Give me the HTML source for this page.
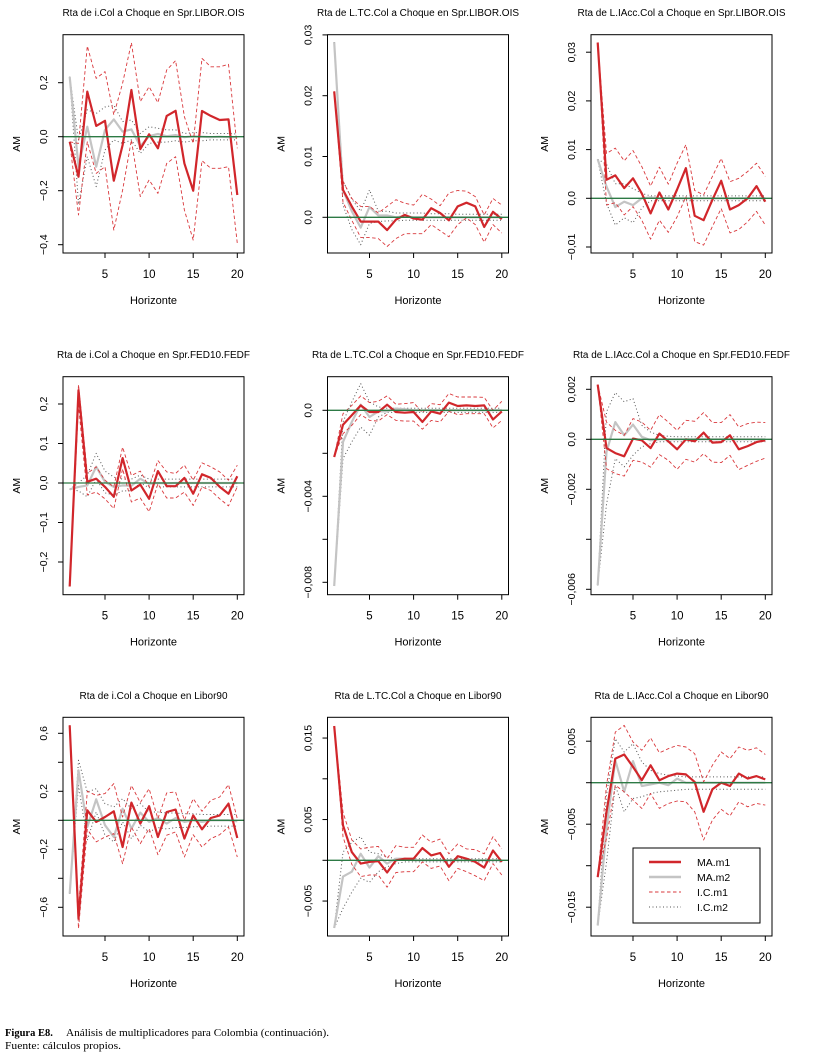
<!DOCTYPE html>
<html><head><meta charset="utf-8">
<style>
html,body{margin:0;padding:0;background:#fff;}
svg{display:block;font-family:"Liberation Sans",sans-serif;}
</style></head>
<body>
<svg id="fig" width="818" height="1058" viewBox="0 0 818 1058" xmlns="http://www.w3.org/2000/svg">
<text x="5" y="1036" font-family="Liberation Serif,serif" font-size="10.5"><tspan font-weight="bold">Figura E8.</tspan><tspan x="66" textLength="263" lengthAdjust="spacingAndGlyphs">Análisis de multiplicadores para Colombia (continuación).</tspan></text>
<text x="5" y="1049" font-family="Liberation Serif,serif" font-size="10.5" textLength="116" lengthAdjust="spacingAndGlyphs">Fuente: cálculos propios.</text>
</svg>
<script>
const horizons = [1,2,3,4,5,6,7,8,9,10,11,12,13,14,15,16,17,18,19,20];
const xTicks = [5,10,15,20];
const panelTitles = ["Rta de i.Col a Choque en Spr.LIBOR.OIS","Rta de L.TC.Col a Choque en Spr.LIBOR.OIS","Rta de L.IAcc.Col a Choque en Spr.LIBOR.OIS",
"Rta de i.Col a Choque en Spr.FED10.FEDF","Rta de L.TC.Col a Choque en Spr.FED10.FEDF","Rta de L.IAcc.Col a Choque en Spr.FED10.FEDF",
"Rta de i.Col a Choque en Libor90","Rta de L.TC.Col a Choque en Libor90","Rta de L.IAcc.Col a Choque en Libor90"];

// Panel 1
const p1_m1=[-0.019,-0.148,0.167,0.040,0.059,-0.163,-0.031,0.173,-0.046,0.009,-0.043,0.077,0.096,-0.099,-0.200,0.095,0.077,0.062,0.064,-0.216];
const p1_up=[-0.019,-0.025,0.336,0.216,0.241,0.081,0.198,0.348,0.130,0.185,0.126,0.247,0.282,0.074,-0.025,0.290,0.259,0.259,0.268,-0.043];
const p1_lo=[-0.019,-0.290,-0.019,-0.136,-0.111,-0.346,-0.198,-0.012,-0.222,-0.160,-0.210,-0.099,-0.074,-0.272,-0.383,-0.089,-0.117,-0.117,-0.111,-0.395];
const p1_m2=[0.222,-0.111,0.037,-0.111,0.025,0.064,0.019,0.027,-0.035,0.002,0.010,0.002,0.006,-0.002,0.002,0,-0.002,0,-0.002,-0.002];
const p1_m2u=[0.222,-0.012,0.10,0.086,0.11,0.117,0.056,0.062,0.012,0.037,0.031,0.025,0.025,0.012,0.015,0.015,0.012,0.012,0.012,0.01];
const p1_m2l=[0.222,-0.25,-0.074,-0.185,-0.049,-0.012,-0.025,-0.012,-0.062,-0.025,-0.02,-0.02,-0.015,-0.02,-0.015,-0.015,-0.012,-0.012,-0.012,-0.012];
// Panel 2
const p2_m1=[0.0207,0.0045,0.0018,-0.0007,-0.0007,-0.0007,-0.0021,-0.0004,0.0004,-0.0002,-0.0004,0.0015,0.0007,-0.0005,0.0018,0.0024,0.0018,-0.0016,0.0009,-0.0003];
const p2_up=[0.0207,0.0059,0.0031,0.0018,0.0018,0.0007,0.0018,0.0029,0.0023,0.002,0.0038,0.003,0.0019,0.0040,0.0044,0.0043,0.0034,0.0004,0.0031,0.002];
const p2_lo=[0.0207,0.0025,-0.0005,-0.0033,-0.0033,-0.0035,-0.0048,-0.0035,-0.0027,-0.0027,-0.0027,-0.0012,-0.0022,-0.0032,-0.0012,-0.0001,-0.0012,-0.0041,-0.0012,-0.0026];
const p2_m2=[0.0288,0.0045,0.001,-0.0017,0.0017,0.0003,0.0003,0,0.0002,0,0,0,0,0,0,0,0,0,0,0];
const p2_m2u=[0.0288,0.006,0.003,0.001,0.0045,0.001,0.001,0.0007,0.0007,0.0007,0.0007,0.0006,0.0006,0.0006,0.0005,0.0005,0.0005,0.0005,0.0005,0.0005];
const p2_m2l=[0.0288,0.002,-0.002,-0.0045,-0.001,-0.0007,-0.0006,-0.0006,-0.0005,-0.0005,-0.0005,-0.0005,-0.0005,-0.0005,-0.0005,-0.0005,-0.0005,-0.0005,-0.0005,-0.0005];
// Panel 3
const p3_m1=[0.032,0.0038,0.0047,0.0021,0.0041,0.001,-0.0031,0.0012,-0.0023,0.0018,0.0062,-0.0036,-0.0045,-0.0003,0.0036,-0.0023,-0.0014,0,0.0025,-0.0007];
const p3_up=[0.032,0.0092,0.0103,0.0077,0.0098,0.0065,0.0025,0.0064,0.0029,0.0072,0.011,0.0016,0.0007,0.0045,0.0082,0.0034,0.0041,0.0055,0.0072,0.0045];
const p3_lo=[0.032,-0.0014,-0.0009,-0.0034,-0.0017,-0.0045,-0.0084,-0.0045,-0.007,-0.0038,0.0003,-0.0089,-0.0096,-0.0058,-0.0021,-0.0071,-0.0064,-0.0048,-0.0027,-0.0055];
const p3_m2=[0.008,0.0024,-0.0018,-0.0007,-0.0014,0,0.0002,0,0.0001,0,0,0,0,0,0,0,0,0,0,0];
const p3_m2u=[0.008,0.007,0.003,0.003,0.002,0.001,0.0005,0.0005,0.0005,0.0005,0.0005,0.0005,0.0005,0.0005,0.0005,0.0005,0.0005,0.0005,0.0005,0.0005];
const p3_m2l=[0.008,-0.001,-0.0055,-0.004,-0.005,-0.002,-0.0005,-0.0005,-0.0005,-0.0005,-0.0005,-0.0005,-0.0005,-0.0005,-0.0005,-0.0005,-0.0005,-0.0005,-0.0005,-0.0005];
// Panel 4
const p4_m1=[-0.262,0.235,0.003,0.011,-0.010,-0.035,0.063,-0.019,-0.004,-0.040,0.030,-0.008,-0.008,0.013,-0.027,0.022,0.013,-0.010,-0.027,0.017];
const p4_up=[-0.262,0.249,0.024,0.041,0.007,-0.010,0.091,0.019,0.030,-0.010,0.057,0.028,0.024,0.045,0.007,0.051,0.041,0.028,0.007,0.045];
const p4_lo=[-0.262,0.197,-0.030,-0.023,-0.040,-0.065,0.036,-0.048,-0.038,-0.073,-0.002,-0.038,-0.038,-0.023,-0.057,-0.010,-0.019,-0.040,-0.058,-0.010];
const p4_m2=[-0.016,-0.010,-0.006,0.041,0.003,-0.010,-0.006,-0.007,0.011,-0.002,0,-0.001,0,0,0,0,0,0,0,0];
const p4_m2u=[-0.016,0.0,0.02,0.075,0.03,0.015,0.01,0.01,0.02,0.01,0.01,0.01,0.01,0.01,0.01,0.01,0.01,0.01,0.01,0.01];
const p4_m2l=[-0.016,-0.02,-0.035,0.01,-0.025,-0.03,-0.02,-0.02,0.0,-0.012,-0.01,-0.01,-0.01,-0.01,-0.01,-0.01,-0.01,-0.01,-0.01,-0.01];
// Panel 5
const p5_m1=[-0.00217,-0.00067,-0.00023,0.00023,-0.00008,-0.00008,0.00026,-0.00008,-0.00011,-0.00008,-0.00054,-0.00005,-0.00016,0.00036,0.0002,0.00023,0.0002,0.00023,-0.00043,-0.00005];
const p5_up=[-0.00217,-0.00016,0.00023,0.00067,0.00036,0.00042,0.00067,0.00028,0.00031,0.00036,-0.00011,0.00031,0.00026,0.00078,0.00062,0.00062,0.00062,0.0006,0,0.00042];
const p5_lo=[-0.00217,-0.00109,-0.0007,-0.0002,-0.00047,-0.0005,-0.0002,-0.00047,-0.0005,-0.0005,-0.00088,-0.00047,-0.00054,-0.00005,-0.0002,-0.00016,-0.00016,-0.00016,-0.00082,-0.00047];
const p5_m2=[-0.00817,-0.00147,-0.00054,0.00026,-0.00031,-0.00005,-0.00005,0.00008,0.00005,0,0,0,0,0,0,0,0,0,0,0];
const p5_m2u=[-0.00817,-0.00054,0.00039,0.00124,0.00039,0.00016,0.0001,0.0001,0.0001,0.0001,0.0001,0.0001,0.0001,0.0001,0.0001,0.0001,0.0001,0.0001,0.0001,0.0001];
const p5_m2l=[-0.00817,-0.00225,-0.00147,-0.00078,-0.00116,-0.00031,-0.0001,-0.0001,-0.0001,-0.0001,-0.0001,-0.0001,-0.0001,-0.0001,-0.0001,-0.0001,-0.0001,-0.0001,-0.0001,-0.0001];
// Panel 6
const p6_m1=[0.00219,-0.00035,-0.00055,-0.00068,0.00003,-0.00004,-0.00035,0.00023,-0.00008,-0.0004,0,-0.00008,0.00027,-0.00013,-0.00011,0.00016,-0.0004,-0.00027,-0.00011,-0.00004];
const p6_up=[0.00219,0.00069,0.00036,0.00016,0.00083,0.00069,0.00036,0.00099,0.00069,0.00036,0.00076,0.00072,0.00107,0.00067,0.00067,0.00099,0.00049,0.00063,0.00069,0.00067];
const p6_lo=[0.00219,-0.00117,-0.00137,-0.00147,-0.00084,-0.00091,-0.00111,-0.00061,-0.00084,-0.0012,-0.0008,-0.00091,-0.00057,-0.00091,-0.00093,-0.00064,-0.00121,-0.00104,-0.00088,-0.00075];
const p6_m2=[-0.00584,-0.0005,0.00069,0.00016,0.00059,0.0001,-0.00004,0,0,0,0,0,0,0,0,0,0,0,0,0];
const p6_m2u=[-0.00584,0.0011,0.00187,0.0015,0.00163,0.00056,0.00029,0.00016,0.00012,0.0001,0.0001,0.0001,0.0001,0.0001,0.0001,0.0001,0.0001,0.0001,0.0001,0.0001];
const p6_m2l=[-0.00584,-0.0026,-0.00077,-0.0011,-0.00064,-0.0003,-0.00017,-0.0001,-0.0001,-0.0001,-0.0001,-0.0001,-0.0001,-0.0001,-0.0001,-0.0001,-0.0001,-0.0001,-0.0001,-0.0001];
// Panel 7
const p7_m1=[0.655,-0.678,0.069,-0.011,0.023,0.062,-0.184,0.122,-0.023,0.097,-0.115,0.057,0.074,-0.126,0.034,-0.062,0.016,0.034,0.115,-0.122];
const p7_up=[0.655,-0.609,0.2,0.172,0.184,0.253,0.023,0.241,0.122,0.218,0.011,0.189,0.195,0,0.149,0.062,0.138,0.161,0.246,0.011];
const p7_lo=[0.655,-0.747,-0.062,-0.149,-0.115,-0.092,-0.299,-0.046,-0.161,-0.057,-0.237,-0.103,-0.080,-0.253,-0.099,-0.184,-0.126,-0.099,-0.046,-0.253];
const p7_m2=[-0.506,0.345,-0.046,0.145,-0.034,-0.115,0.080,-0.057,0.053,-0.011,0.016,-0.023,0.016,-0.011,0,-0.011,0,0,0,-0.007];
const p7_m2u=[-0.506,0.414,0.195,0.218,0.115,0.092,0.149,0.08,0.115,0.057,0.057,0.05,0.05,0.045,0.045,0.04,0.04,0.04,0.04,0.04];
const p7_m2l=[-0.506,0.241,-0.138,0.057,-0.103,-0.149,-0.011,-0.126,-0.034,-0.08,-0.05,-0.06,-0.05,-0.05,-0.045,-0.045,-0.04,-0.04,-0.04,-0.04];
// Panel 8
const p8_m1=[0.01648,0.0043,0.001,-0.0004,-0.0002,-0.0001,-0.0015,0,0.0002,0.0002,0.0015,0.0006,0.0009,-0.0008,0.0005,0.0002,-0.0002,-0.0009,0.0012,-0.0002];
const p8_up=[0.01648,0.0059,0.0025,0.0014,0.0016,0.0017,0.0002,0.0018,0.0016,0.0016,0.0031,0.0022,0.0026,0.0008,0.002,0.0014,0.0013,0.0008,0.0029,0.0014];
const p8_lo=[0.01648,0.0029,-0.0005,-0.002,-0.0018,-0.0018,-0.0033,-0.0015,-0.0014,-0.0014,-0.0002,-0.001,-0.0007,-0.0025,-0.001,-0.0014,-0.0019,-0.0025,-0.0004,-0.0018];
const p8_m2=[-0.0083,-0.002,-0.0014,0.0008,-0.0009,0.0005,-0.0004,0.0002,0.0002,0,0,0,0,0,0,0,0,0,0,0];
const p8_m2u=[-0.0083,0.001,0.0022,0.0029,0.001,0.0008,0.0004,0.0002,0.0002,0.0002,0.0002,0.0002,0.0002,0.0002,0.0002,0.0002,0.0002,0.0002,0.0002,0.0002];
const p8_m2l=[-0.0083,-0.0059,-0.0039,-0.0022,-0.0027,-0.0014,-0.0008,-0.0004,-0.0002,-0.0002,-0.0002,-0.0002,-0.0002,-0.0002,-0.0002,-0.0002,-0.0002,-0.0002,-0.0002,-0.0002];
// Panel 9
const p9_m1=[-0.01137,-0.0035,0.0029,0.0034,0.0019,0.0003,0.0021,0.0003,0.0008,0.0011,0.001,0.0001,-0.0035,-0.0008,0,-0.0004,0.0011,0.0005,0.0008,0.0004];
const p9_up=[-0.01137,-0.0003,0.0061,0.0069,0.0049,0.0039,0.0054,0.0036,0.0041,0.0045,0.0043,0.0035,0.0001,0.0021,0.0037,0.0029,0.0043,0.0039,0.0042,0.0034];
const p9_lo=[-0.01137,-0.0067,-0.0003,-0.0011,-0.0021,-0.0031,-0.0013,-0.0031,-0.0025,-0.0022,-0.0023,-0.0035,-0.0069,-0.0045,-0.0032,-0.004,-0.0023,-0.0029,-0.0025,-0.0027];
const p9_m2=[-0.0172,-0.0055,0.0027,-0.0011,0.0026,-0.0004,-0.0002,0,-0.0003,0.0005,0,0,0,0,0,0,0,0,0,0];
const p9_m2u=[-0.0172,-0.0015,0.0053,0.0037,0.0047,0.0025,0.0015,0.0011,0.0009,0.0008,0.0007,0.0007,0.0007,0.0007,0.0007,0.0007,0.0007,0.0007,0.0007,0.0007];
const p9_m2l=[-0.0172,-0.0096,-0.0003,-0.0035,-0.0019,-0.0017,-0.0013,-0.0011,-0.001,-0.0009,-0.0008,-0.0008,-0.0008,-0.0008,-0.0008,-0.0008,-0.0008,-0.0008,-0.0008,-0.0008];

// y tick values and labels per panel
const p1_yt=[-0.4,-0.2,0,0.2]; const p1_yl=["−0,4","−0,2","0,0","0,2"];
const p2_yt=[0,0.01,0.02,0.03]; const p2_yl=["0,0","0,01","0,02","0,03"];
const p3_yt=[-0.01,0,0.01,0.02,0.03]; const p3_yl=["−0,01","0,0","0,01","0,02","0,03"];
const p4_yt=[-0.2,-0.1,0,0.1,0.2]; const p4_yl=["−0,2","−0,1","0,0","0,1","0,2"];
const p5_yt=[-0.008,-0.006,-0.004,-0.002,0]; const p5_yl=["−0,008","","−0,004","","0,0"];
const p6_yt=[-0.006,-0.004,-0.002,0,0.002]; const p6_yl=["−0,006","","−0,002","0,0","0,002"];
const p7_yt=[-0.6,-0.4,-0.2,0,0.2,0.4,0.6]; const p7_yl=["−0,6","","−0,2","","0,2","","0,6"];
const p8_yt=[-0.005,0,0.005,0.01,0.015]; const p8_yl=["−0,005","","0,005","","0,015"];
const p9_yt=[-0.015,-0.01,-0.005,0,0.005]; const p9_yl=["−0,015","","−0,005","","0,005"];

const NS="http://www.w3.org/2000/svg";
const svg=document.getElementById('fig');
function mk(tag,attrs,parent){const e=document.createElementNS(NS,tag);for(const k in attrs)e.setAttribute(k,attrs[k]);(parent||svg).appendChild(e);return e;}

const colLeft=[63,327.5,591];
const rowTop=[34.7,376.7,717.3];
const boxH=[218.3,218,218.7];
const boxW=181;
const titleW=[182,202,208,193,212,217,148,167,174];
const zeroY=[136.7,217.3,198.3,483,410.3,439.3,820.3,860.3,782.7];
const yScale=[270,6080,4870,395,21500,25000,145,8150,8300];
const panels=[
 [p1_m1,p1_up,p1_lo,p1_m2,p1_m2u,p1_m2l,p1_yt,p1_yl],
 [p2_m1,p2_up,p2_lo,p2_m2,p2_m2u,p2_m2l,p2_yt,p2_yl],
 [p3_m1,p3_up,p3_lo,p3_m2,p3_m2u,p3_m2l,p3_yt,p3_yl],
 [p4_m1,p4_up,p4_lo,p4_m2,p4_m2u,p4_m2l,p4_yt,p4_yl],
 [p5_m1,p5_up,p5_lo,p5_m2,p5_m2u,p5_m2l,p5_yt,p5_yl],
 [p6_m1,p6_up,p6_lo,p6_m2,p6_m2u,p6_m2l,p6_yt,p6_yl],
 [p7_m1,p7_up,p7_lo,p7_m2,p7_m2u,p7_m2l,p7_yt,p7_yl],
 [p8_m1,p8_up,p8_lo,p8_m2,p8_m2u,p8_m2l,p8_yt,p8_yl],
 [p9_m1,p9_up,p9_lo,p9_m2,p9_m2u,p9_m2l,p9_yt,p9_yl]];

panels.forEach((p,i)=>{
  const r=Math.floor(i/3), c=i%3;
  const L=colLeft[c], T=rowTop[r], H=boxH[r], B=T+H;
  const step=boxW/20.52;
  const xs=h=>L+(h-1+0.76)*step;
  const ys=v=>zeroY[i]-v*yScale[i];
  const g=mk('g',{});
  
  
  const ttl=mk('text',{x:L+boxW/2,y:T-18.5,'text-anchor':'middle','font-size':'10',textLength:String(titleW[i]),lengthAdjust:'spacingAndGlyphs'},g);
  ttl.textContent=panelTitles[i];
  
  
  const cp=mk('clipPath',{id:'cp'+i},g);
  mk('rect',{x:L,y:T,width:boxW,height:H},cp);
  const pl=mk('g',{'clip-path':'url(#cp'+i+')'},g);
  const path=arr=>arr.map((v,k)=>(k?'L':'M')+xs(horizons[k]).toFixed(1)+','+ys(v).toFixed(1)).join('');
  const styles=[
    [p[4],'ic-m2-upper','#555','1','1 2.5'],[p[5],'ic-m2-lower','#555','1','1 2.5'],
    [p[3],'ma-m2-line','#c4c4c4','2.2',''],
    [p[1],'ic-m1-upper','#d9383c','0.9','3.5 2.5'],[p[2],'ic-m1-lower','#d9383c','0.9','3.5 2.5'],
    [p[0],'ma-m1-line','#d1262b','2.2','']];
  styles.forEach(s=>{
    const e=mk('path',{d:path(s[0]),fill:'none',stroke:s[2],'stroke-width':s[3],'stroke-dasharray':s[4],'stroke-linejoin':'round'},pl);
    
    
  });
  const z=mk('line',{x1:L,x2:L+boxW,y1:ys(0),y2:ys(0),stroke:'#2d7a45','stroke-width':'1.3'},pl);
  
  
  const box=mk('rect',{x:L,y:T,width:boxW,height:H,fill:'none',stroke:'#000','stroke-width':'1'},g);
  
  
  xTicks.forEach(t=>{
    mk('line',{x1:xs(t),x2:xs(t),y1:B,y2:B+5,stroke:'#000','stroke-width':'1'},g);
    const tl=mk('text',{x:xs(t),y:B+25,'text-anchor':'middle','font-size':'11.5'},g);
    tl.textContent=t;
    
    
  });
  const xl=mk('text',{x:L+boxW/2,y:B+51,'text-anchor':'middle','font-size':'11'},g);
  xl.textContent='Horizonte';
  
  
  const al=mk('text',{x:0,y:0,'text-anchor':'middle','font-size':'10.5',transform:`translate(${L-43},${T+H/2}) rotate(-90)`},g);
  al.textContent='AM';
  
  
  p[6].forEach((t,k)=>{
    const y=ys(t);
    mk('line',{x1:L-5,x2:L,y1:y,y2:y,stroke:'#000','stroke-width':'1'},g);
    if(p[7][k]){
      const tl=mk('text',{x:0,y:0,'text-anchor':'middle','font-size':'10.5',transform:`translate(${L-16},${y}) rotate(-90)`},g);
      tl.textContent=p[7][k];
      
      
    }
  });
});

// legend
const lg=mk('g',{});


mk('rect',{x:633,y:848,width:127,height:75,fill:'#fff',stroke:'#000','stroke-width':'1'},lg);
const legNames=['MA.m1','MA.m2','I.C.m1','I.C.m2'];
const legStyles=[['#d1262b','2.5',''],['#c4c4c4','2.5',''],['#d9383c','1','3.5 2.5'],['#555','1','1 2.5']];
legNames.forEach((n,k)=>{
  const y=862+k*15;
  const ln=mk('line',{x1:649,x2:681,y1:y,y2:y,stroke:legStyles[k][0],'stroke-width':legStyles[k][1],'stroke-dasharray':legStyles[k][2]},lg);
  
  
  const t=mk('text',{x:697,y:y+4,'font-size':'10.5'},lg);
  t.textContent=n;
  
  
});
</script>
</body></html>
